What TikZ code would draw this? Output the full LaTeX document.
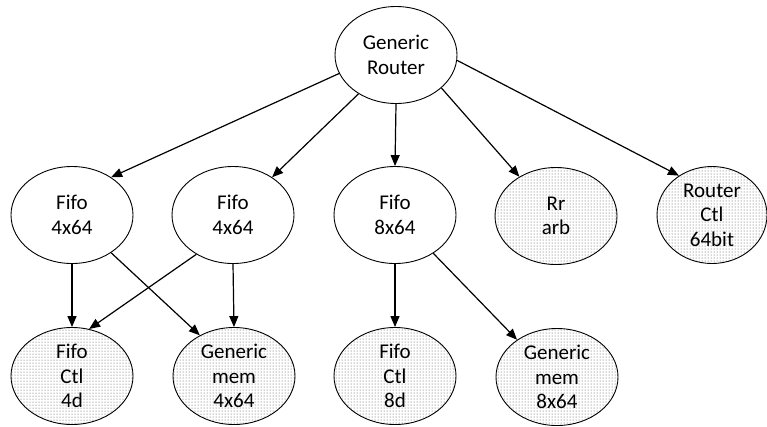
\documentclass[tikz,border=0pt]{standalone}
\usepackage{fontspec}
\setmainfont{Carlito}
\usetikzlibrary{shapes.geometric,arrows.meta,patterns}

\tikzset{
  blob/.style={ellipse, draw=black, line width=0.9pt, inner sep=0pt,
    minimum width=122pt, minimum height=97pt, align=center,
    font=\fontsize{21}{24.4}\selectfont},
  leaf/.style={blob, pattern=dots, pattern color=black!70},
  link/.style={line width=1.2pt, -{Triangle[length=11pt,width=9pt]}}
}

\begin{document}
\begin{tikzpicture}[x=1pt, y=-1pt]
  \useasboundingbox (0,0) rectangle (767,426);

  % top level
  \node[blob] (gr) at (396,55) {Generic\\Router};

  % middle row
  \node[blob] (f1) at (72,215)  {Fifo\\4x64};
  \node[blob] (f2) at (233,215) {Fifo\\4x64};
  \node[blob] (f3) at (395,215) {Fifo\\8x64};
  \node[leaf] (rr) at (556,216) {Rr\\arb};
  \node[leaf, minimum width=110pt] (rc) at (712,215) {Router\\Ctl\\64bit};

  % bottom row
  \node[leaf] (c4) at (72,376)  {Fifo\\Ctl\\4d};
  \node[leaf] (m4) at (234,376) {Generic\\mem\\4x64};
  \node[leaf] (c8) at (395,376) {Fifo\\Ctl\\8d};
  \node[leaf] (m8) at (557,377) {Generic\\mem\\8x64};

  % connections from the router
  \draw[link] (gr.198) -- (f1.44);
  \draw[link] (gr.226) -- (f2.44);
  \draw[link] (gr.270) -- (f3.90);
  \draw[link] (gr.324) -- (rr.133);
  \draw[link] (gr.355) -- (rc.130);

  % connections from the fifos
  \draw[link] (f1.270) -- (c4.90);
  \draw[link] (f1.316) -- (m4.130);
  \draw[link] (f2.227) -- (c4.70);
  \draw[link] (f2.270) -- (m4.90);
  \draw[link] (f3.270) -- (c8.90);
  \draw[link] (f3.315) -- (m8.137);
\end{tikzpicture}
\end{document}
